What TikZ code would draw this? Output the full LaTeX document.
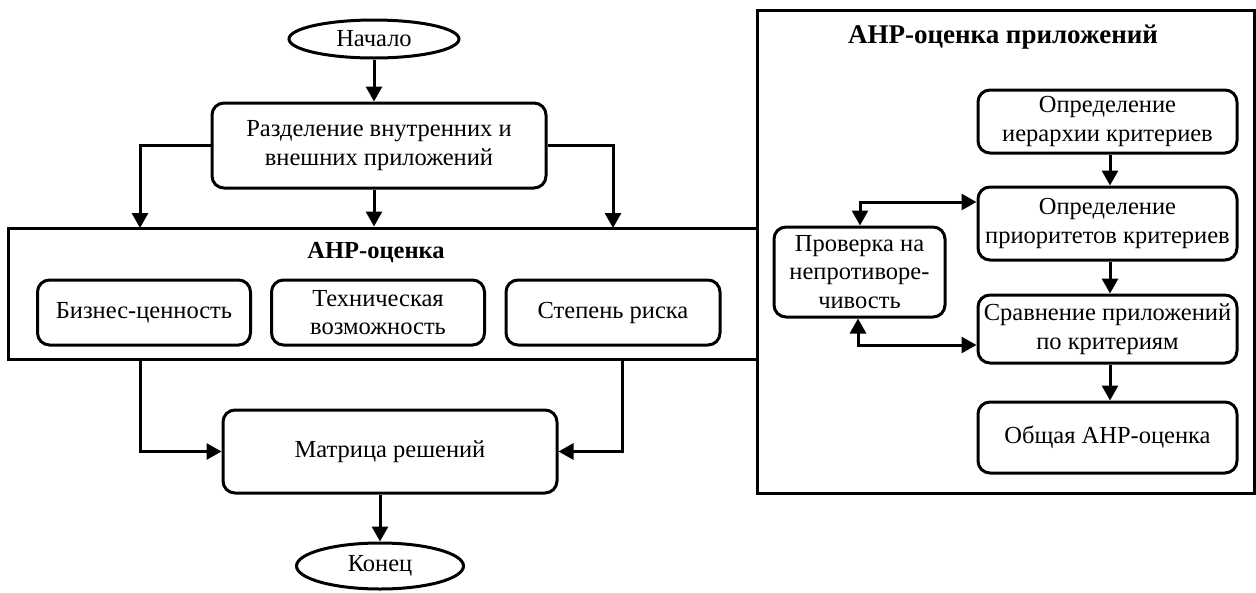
\documentclass[tikz,border=0pt]{standalone}
\usepackage{fontspec}
\setmainfont{Liberation Serif}
\usetikzlibrary{shapes.geometric,arrows.meta}
\newcommand{\fs}{\fontsize{24.5}{28.5}\selectfont}
\newcommand{\fsbig}{\fontsize{27}{31}\selectfont}
\tikzset{
  box/.style={draw, rounded corners=12pt, line width=3pt, align=center, inner sep=0pt, font=\fs},
  term/.style={draw, ellipse, line width=3pt, inner sep=0pt, font=\fs},
  frame/.style={draw, line width=3pt, inner sep=0pt},
  ttl/.style={font=\fs\bfseries, inner sep=0pt},
  bigttl/.style={font=\fsbig\bfseries, inner sep=0pt},
  arr/.style={line width=3pt, -{Triangle[length=15pt,width=16pt]}},
  dbl/.style={line width=3pt, {Triangle[length=15pt,width=16pt]}-{Triangle[length=15pt,width=16pt]}},
}
\begin{document}
\begin{tikzpicture}[x=1pt,y=-1pt]
\useasboundingbox (0,0) rectangle (1256,592);
% left column
\node[term, minimum width=170pt, minimum height=38pt] (start) at (374,39) {Начало};
\node[box, minimum width=334pt, minimum height=85pt] (sep) at (379,145.5) {Разделение внутренних и\\внешних приложений};
\node[frame, minimum width=749pt, minimum height=131pt] (ahp) at (382.5,293.5) {};
\node[ttl] (ahpt) at (376,253) {АНР-оценка};
\node[box, minimum width=213pt, minimum height=65pt] (biz) at (144,312.5) {Бизнес-ценность};
\node[box, minimum width=213pt, minimum height=65pt] (tech) at (378,312.5) {Техническая\\возможность};
\node[box, minimum width=214pt, minimum height=65pt] (risk) at (613,312.5) {Степень риска};
\node[box, minimum width=334pt, minimum height=83pt] (mat) at (390,451.5) {Матрица решений};
\node[term, minimum width=167pt, minimum height=46pt] (end) at (380,566) {Конец};
% right panel
\node[frame, minimum width=497pt, minimum height=483pt] (panel) at (1005.5,251.5) {};
\node[bigttl] (pt) at (1003,37) {АНР-оценка приложений};
\node[box, minimum width=259pt, minimum height=63pt] (h1) at (1107.5,121.5) {Определение\\иерархии критериев};
\node[box, minimum width=259pt, minimum height=73pt] (h2) at (1107.5,223.5) {Определение\\приоритетов критериев};
\node[box, minimum width=259pt, minimum height=68pt] (h3) at (1107.5,329) {Сравнение приложений\\по критериям};
\node[box, minimum width=259pt, minimum height=71pt] (h4) at (1107.5,437.5) {Общая АНР-оценка};
\node[box, minimum width=171pt, minimum height=90pt] (chk) at (859.5,272) {Проверка на\\непротиворе-\\чивость};
% coordinates
\coordinate (L1) at (140,228);
\coordinate (R1) at (613,228);
\coordinate (L2) at (140,359);
\coordinate (R2) at (622,359);
\coordinate (c1) at (860,202);
\coordinate (c2) at (858,345);
% connectors
\draw[arr] (start.south) -- (start.south |- sep.north);
\draw[arr] (sep.south -| start.south) -- (start.south |- ahp.north);
\draw[arr] (sep.west) -| (L1);
\draw[arr] (sep.east) -| (R1);
\draw[arr] (L2) |- (mat.west);
\draw[arr] (R2) |- (mat.east);
\draw[arr] (mat.south -| end.north) -- (end.north);
\draw[arr] (h1.south -| 1110,0) -- (h2.north -| 1110,0);
\draw[arr] (h2.south -| 1110,0) -- (h3.north -| 1110,0);
\draw[arr] (h3.south -| 1110,0) -- (h4.north -| 1110,0);
\draw[dbl] (c1 -| h2.west) -- (c1) -- (c1 |- chk.north);
\draw[dbl] (c2 |- chk.south) -- (c2) -- (c2 -| h3.west);
\end{tikzpicture}
\end{document}
